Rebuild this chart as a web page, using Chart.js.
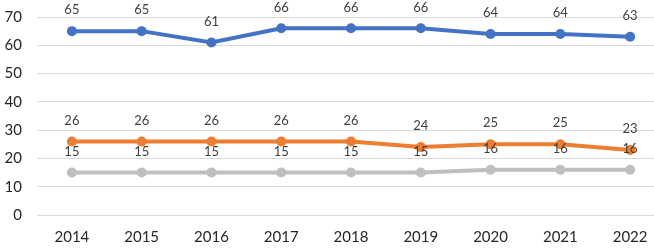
<!DOCTYPE html>
<html><head><meta charset="utf-8">
<script src="https://cdn.jsdelivr.net/npm/chart.js@4/dist/chart.umd.min.js"></script>
<style>
html,body{margin:0;padding:0;background:#fff;overflow:hidden;width:654px;height:248px;}
#wrap{width:654px;height:248px;overflow:hidden;position:relative;}
canvas{display:block;}
</style></head>
<body><div id="wrap"><canvas id="c" width="670" height="248"></canvas></div>
<script>
const categories = ['2014','2015','2016','2017','2018','2019','2020','2021','2022'];
const seriesBlue = [65,65,61,66,66,66,64,64,63];
const seriesOrange = [26,26,26,26,26,24,25,25,23];
const seriesGray = [15,15,15,15,15,15,16,16,16];
const yTicks = [0,10,20,30,40,50,60,70];

const FONT = 'Lato, "Open Sans", sans-serif';

const labelPlugin = {
  id: 'valueLabels',
  afterDatasetsDraw(chart) {
    const ctx = chart.ctx;
    ctx.save();
    ctx.font = '13px ' + FONT;
    ctx.fillStyle = '#404040';
    ctx.textAlign = 'center';
    ctx.textBaseline = 'middle';
    chart.data.datasets.forEach((ds, i) => {
      const meta = chart.getDatasetMeta(i);
      meta.data.forEach((pt, j) => {
        ctx.fillText(String(ds.data[j]), pt.x, pt.y - 21);
      });
    });
    ctx.restore();
  }
};

function ds(data, color) {
  return {
    data, borderColor: color, backgroundColor: color,
    borderWidth: 4, pointRadius: 5, pointHoverRadius: 5,
    pointBorderWidth: 0, tension: 0, fill: false
  };
}

new Chart(document.getElementById('c'), {
  type: 'line',
  data: {
    labels: categories,
    datasets: [ds(seriesBlue, '#4472C4'), ds(seriesOrange, '#ED7D31'), ds(seriesGray, '#BFBFBF')]
  },
  options: {
    responsive: false,
    animation: false,
    events: [],
    layout: { padding: { top: 17, right: 3, left: 0, bottom: 0 } },
    plugins: { legend: { display: false }, tooltip: { enabled: false } },
    scales: {
      x: {
        offset: true,
        grid: { display: false, drawTicks: false },
        border: { display: false },
        ticks: { color: '#262626', font: { family: FONT, size: 15 }, padding: 13, maxRotation: 0 },
        afterFit(s) { s.height = 33; }
      },
      y: {
        min: 0, max: 70,
        afterBuildTicks(s) { s.ticks = yTicks.map(v => ({ value: v })); },
        grid: { color: '#D9D9D9', lineWidth: 1, drawTicks: true, tickLength: 11, tickColor: 'rgba(0,0,0,0)' },
        border: { display: false },
        ticks: { color: '#262626', font: { family: FONT, size: 15 }, padding: 4 },
        afterFit(s) { s.width = 37; }
      }
    }
  },
  plugins: [labelPlugin]
});
</script></body></html>
